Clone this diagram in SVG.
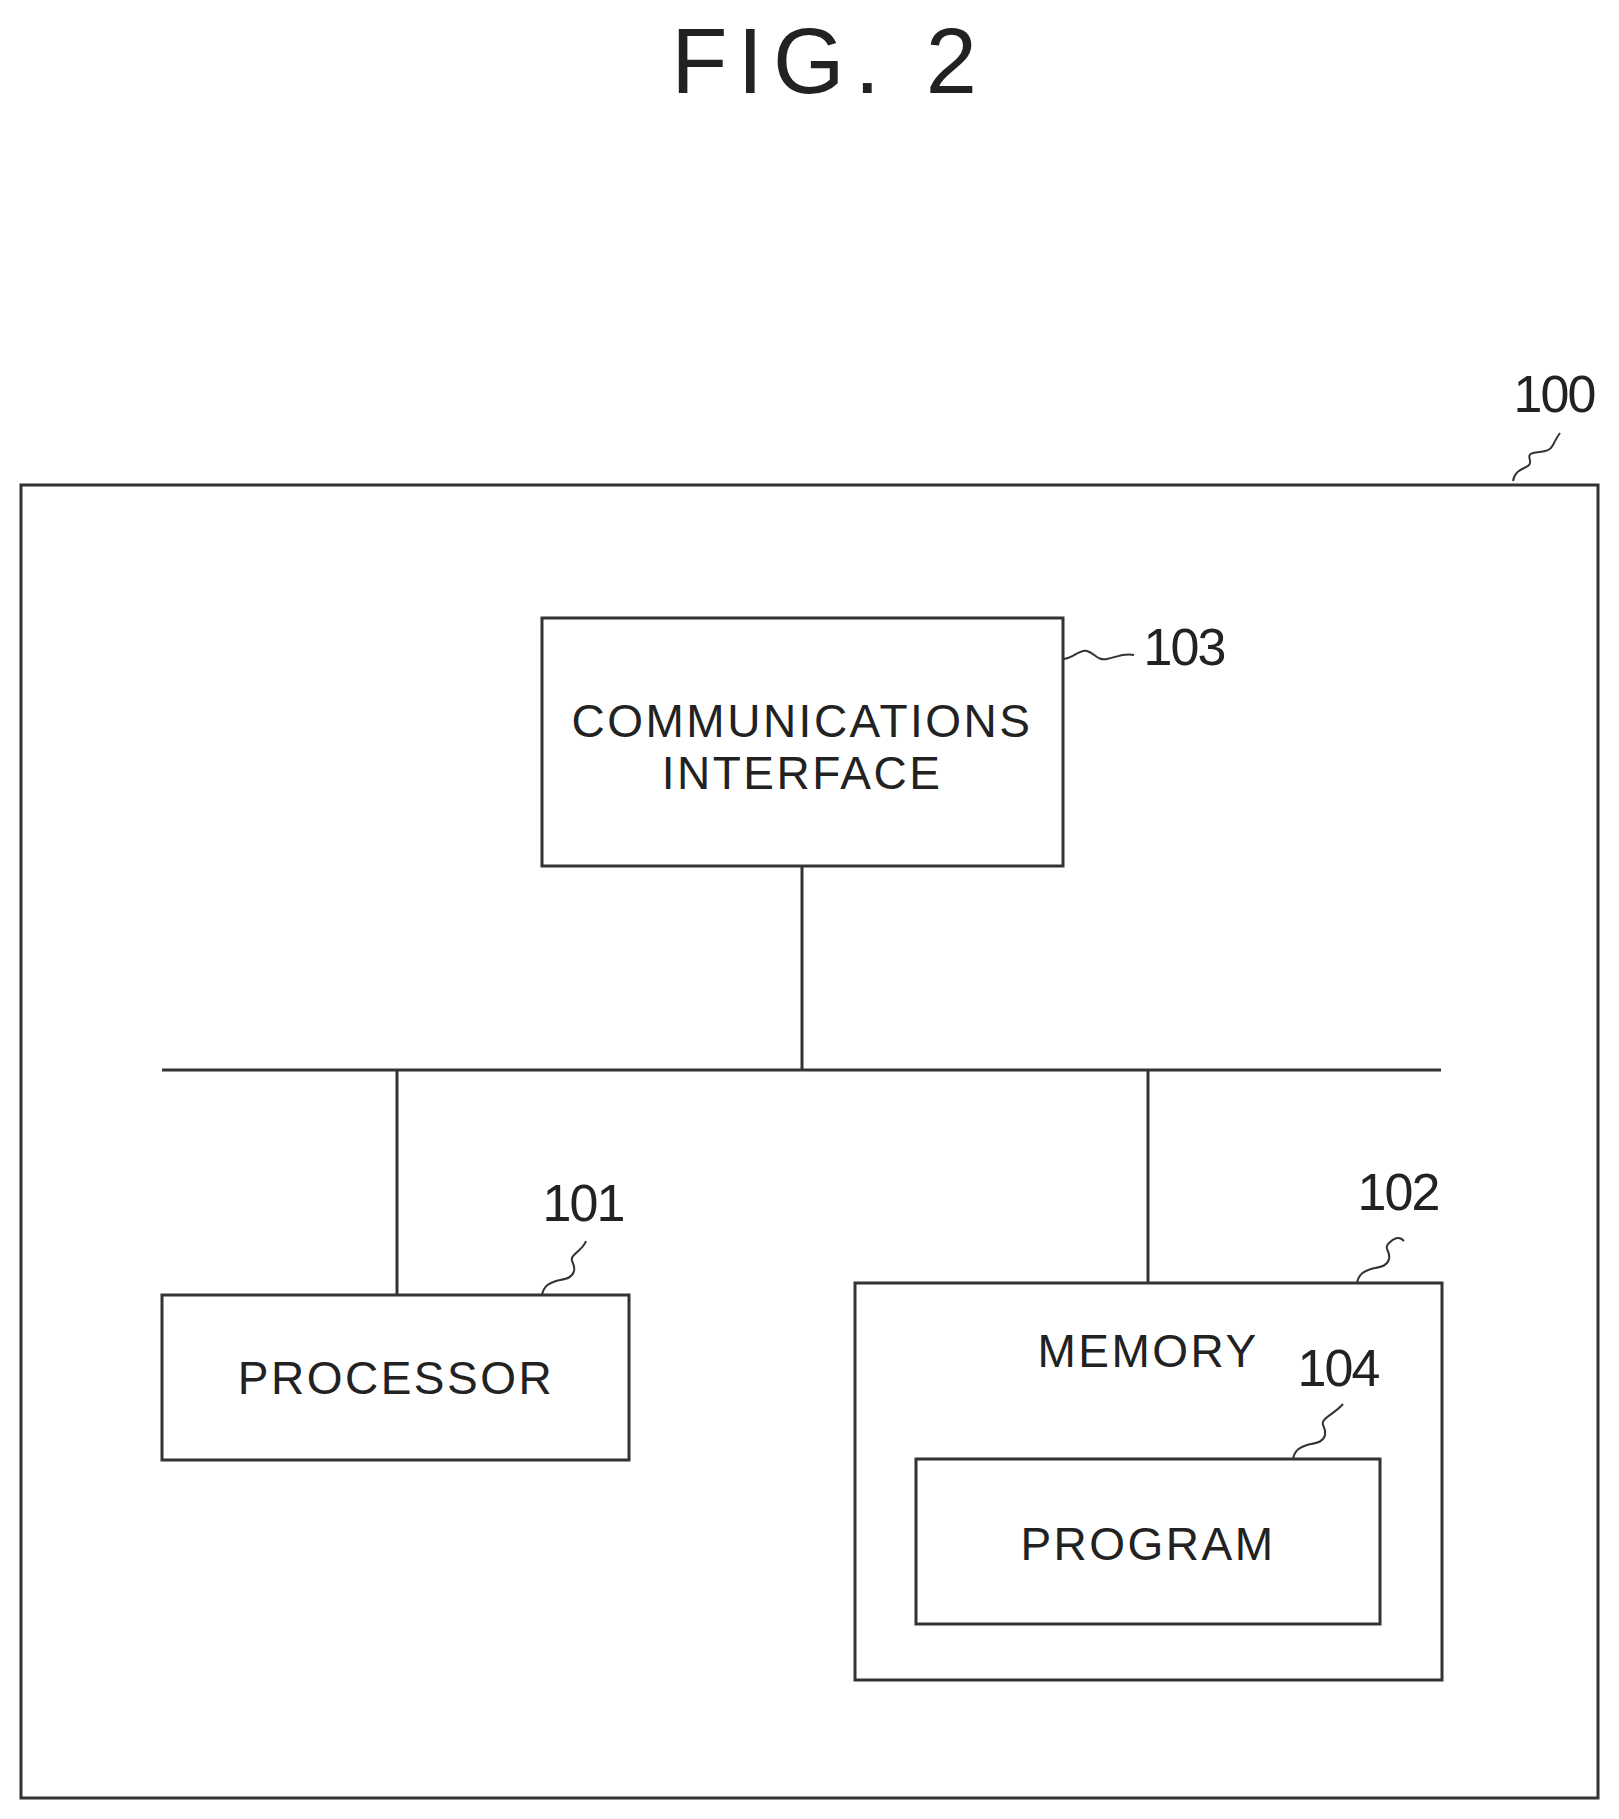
<svg xmlns="http://www.w3.org/2000/svg" width="1619" height="1819" viewBox="0 0 1619 1819">
<style>
.b{fill:none;stroke:#333;stroke-width:3}
.t{font-family:"Liberation Sans",Arial,sans-serif;fill:#222;text-anchor:middle}
.l{font-size:46px;letter-spacing:2.5px}
.n{font-size:52px;letter-spacing:-2px}
.s{fill:none;stroke:#333;stroke-width:2}
</style>
<rect width="1619" height="1819" fill="#fff"/>
<text class="t" x="829" y="93" font-size="92" letter-spacing="10">FIG. 2</text>
<g id="n100">
<rect class="b" x="21" y="485" width="1577" height="1313"/>
<text class="t n" x="1554" y="412">100</text>
<path class="s" d="M1513,481 c2,-12 12,-12 16,-16 c4,-4 -4,-10 4,-12 c8,-2 16,0 20,-8 c2,-4 4,-8 7,-12"/>
</g>
<g id="n103">
<rect class="b" x="542" y="618" width="521" height="248"/>
<text class="t l" x="802" y="737">COMMUNICATIONS</text>
<text class="t l" x="802" y="789">INTERFACE</text>
<text class="t n" x="1184" y="665">103</text>
<path class="s" d="M1063,659 c10,0 16,-10 24,-8 c8,2 10,10 20,8 c10,-2 16,-6 27,-4"/>
</g>
<g id="n101">
<rect class="b" x="162" y="1295" width="467" height="165"/>
<text class="t l" x="396" y="1394">PROCESSOR</text>
<text class="t n" x="583" y="1221">101</text>
<path class="s" d="M542,1295 c2,-10 8,-12 14,-14 c8,-2 16,-2 18,-10 c2,-8 -6,-10 0,-16 c4,-4 10,-8 12,-14"/>
</g>
<g id="n102">
<rect class="b" x="855" y="1283" width="587" height="397"/>
<text class="t l" x="1148" y="1367">MEMORY</text>
<text class="t n" x="1398" y="1210">102</text>
<path class="s" d="M1357,1283 c2,-10 8,-12 14,-14 c8,-2 16,-2 18,-10 c2,-8 -6,-10 0,-16 c4,-4 10,-8 15,-2"/>
</g>
<g id="n104">
<rect class="b" x="916" y="1459" width="464" height="165"/>
<text class="t l" x="1148" y="1560">PROGRAM</text>
<text class="t n" x="1338" y="1386">104</text>
<path class="s" d="M1293,1459 c2,-10 8,-12 14,-14 c8,-2 16,-2 18,-10 c2,-8 -6,-10 0,-16 c4,-4 12,-8 18,-15"/>
</g>
<g id="connectors" class="b">
<line x1="802" y1="866" x2="802" y2="1070"/>
<line x1="162" y1="1070" x2="1441" y2="1070"/>
<line x1="397" y1="1070" x2="397" y2="1295"/>
<line x1="1148" y1="1070" x2="1148" y2="1283"/>
</g>
</svg>
